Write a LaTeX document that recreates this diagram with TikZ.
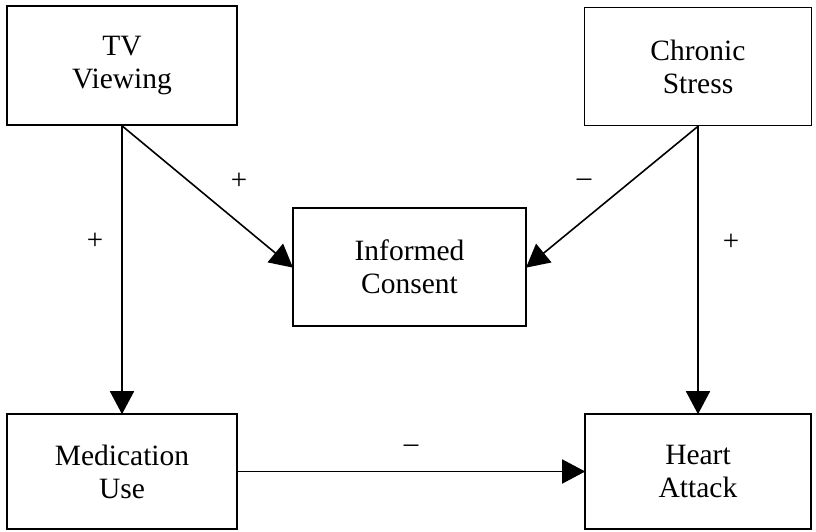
\documentclass[tikz,border=0pt]{standalone}
\usepackage{fontspec}
\setmainfont{Liberation Serif}
\usetikzlibrary{arrows.meta}
\begin{document}
\begin{tikzpicture}[x=1pt,y=-1pt,
  box/.style={draw, line width=1.6pt, inner sep=0pt, align=center,
    font=\fontsize{29.5}{33}\selectfont},
  link/.style={line width=1.6pt, -{Triangle[length=23pt,width=24pt]}, shorten >=-1pt},
  sign/.style={font=\fontsize{29}{30}\selectfont}]
\useasboundingbox (0,0) rectangle (816,532);
\node[box, minimum width=230pt, minimum height=119pt] (tv) at (122,65.5) {TV\\Viewing};
\node[box, minimum width=227pt, minimum height=118pt] (cs) at (698,66.5) {Chronic\\Stress};
\node[box, minimum width=233pt, minimum height=118pt] (ic) at (409.5,267) {Informed\\Consent};
\node[box, minimum width=230pt, minimum height=115pt] (mu) at (122,471.5) {Medication\\Use};
\node[box, minimum width=226pt, minimum height=115pt] (ha) at (698,471.5) {Heart\\Attack};
\draw[link] (tv.south) -- (ic.west);
\draw[link] (tv.south) -- (mu.north);
\draw[link] (cs.south) -- (ic.east);
\draw[link] (cs.south) -- (ha.north);
\draw[link] (mu.east) -- (ha.west);
\node[sign] (s1) at (239,181) {+};
\node[sign] (s2) at (95,241) {+};
\node[sign] (s3) at (584,183) {–};
\node[sign] (s4) at (731,242) {+};
\node[sign] (s5) at (411,449) {–};
\end{tikzpicture}
\end{document}
